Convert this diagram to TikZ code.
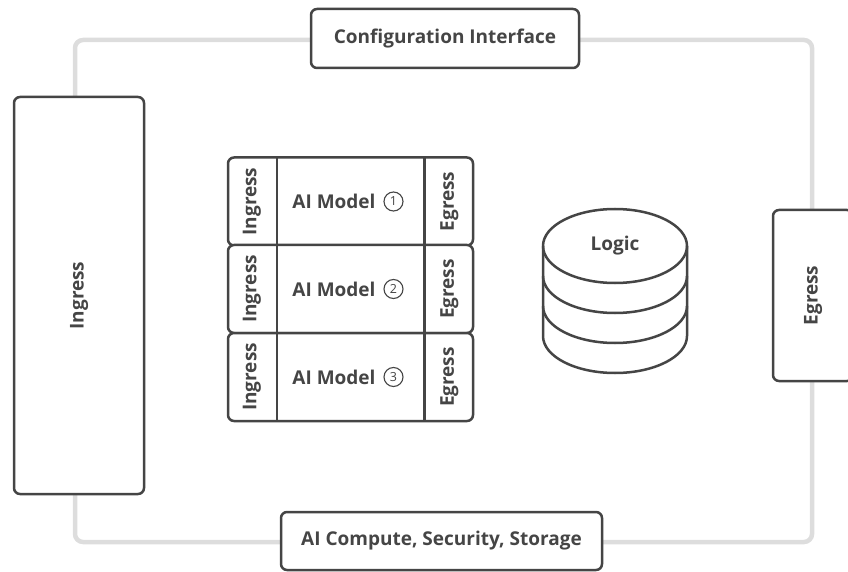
\documentclass[tikz,border=0pt]{standalone}
\usepackage{fontspec}
\setmainfont{Open Sans}
\usetikzlibrary{calc}
\definecolor{ink}{HTML}{454545}
\definecolor{framegray}{HTML}{DDDDDD}
\begin{document}
\begin{tikzpicture}[x=1pt,y=1pt,
  box/.style={draw=ink, line width=2.5pt, rounded corners=6pt, fill=white, inner sep=0pt},
  lbl/.style={text=ink, font=\bfseries\fontsize{19}{22}\selectfont},
  num/.style={circle, draw=ink, line width=1.1pt, minimum size=19pt, inner sep=0pt, text=ink, font=\fontsize{12.5}{14}\selectfont},
  divider/.style={draw=ink, line width=2.5pt},
  drum/.style={draw=ink, line width=2.5pt}]
\useasboundingbox (0,0) rectangle (848,571);

% outer frame
\draw[framegray, line width=4.5pt, rounded corners=8pt] (75,29) rectangle (812,531);

% side and edge boxes
\node[box, minimum width=130, minimum height=397] (ingress) at (79,275.5) {};
\node[lbl, rotate=90] at (ingress) {Ingress};
\node[box, minimum width=80, minimum height=171] (egress) at (813,275.5) {};
\node[lbl, rotate=90] at (egress) {Egress};
\node[box, minimum width=268, minimum height=59] (config) at (445,532.5) {};
\node[lbl] at (config) {Configuration Interface};
\node[box, minimum width=321, minimum height=58] (compute) at (441.5,30) {};
\node[lbl] at (compute) {AI Compute, Security, Storage};

% stacked model rows
\foreach \i/\y in {1/369.5, 2/282, 3/194} {
  \node[box, minimum width=245, minimum height=88] (row\i) at (350.5,\y) {};
  \draw[divider] ([xshift=50pt]row\i.north west) -- ([xshift=50pt]row\i.south west);
  \draw[divider] ([xshift=-50pt]row\i.north east) -- ([xshift=-50pt]row\i.south east);
  \node[lbl, rotate=90] at ([xshift=25pt]row\i.west) {Ingress};
  \node[lbl, rotate=90] at ([xshift=-25pt]row\i.east) {Egress};
  \node[lbl] at ([xshift=-16.5pt]row\i.center) {AI Model};
  \node[num] at ([xshift=43pt]row\i.center) {\i};
}

% logic store
\coordinate (logic) at (615,325);
\fill[white] (543,325) -- (543,235) arc[start angle=180, end angle=360, x radius=72pt, y radius=37pt]
  -- (687,325) arc[start angle=0, end angle=180, x radius=72pt, y radius=37pt] -- cycle;
\draw[drum] (543,325) -- (543,235) arc[start angle=180, end angle=360, x radius=72pt, y radius=37pt] -- (687,325);
\draw[drum] (logic) ellipse[x radius=72pt, y radius=37pt];
\draw[drum] (543,295) arc[start angle=180, end angle=360, x radius=72pt, y radius=37pt];
\draw[drum] (543,265) arc[start angle=180, end angle=360, x radius=72pt, y radius=37pt];
\node[lbl] at (logic) {Logic};
\end{tikzpicture}
\end{document}
